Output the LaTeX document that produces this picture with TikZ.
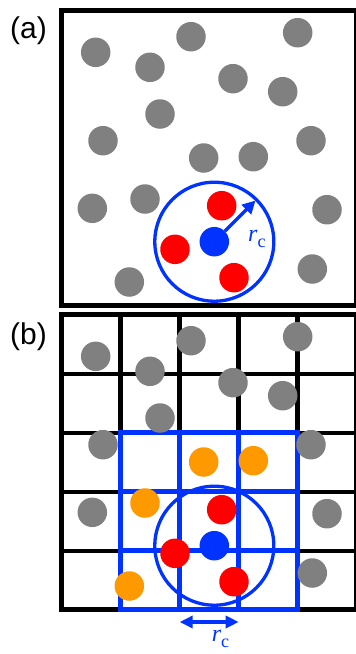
\documentclass[tikz,border=0pt]{standalone}
\usepackage{fontspec}
\setmainfont{Liberation Sans}
\newfontfamily\serifrc{Liberation Serif}
\usetikzlibrary{arrows.meta}
\definecolor{pblue}{RGB}{0,51,255}
\definecolor{pred}{RGB}{255,0,0}
\definecolor{pgray}{RGB}{128,128,128}
\definecolor{porange}{RGB}{255,153,0}
\newcommand{\rclabel}{{\serifrc\fontsize{24}{24}\selectfont\itshape r\raisebox{-5.5pt}{\upshape\fontsize{18}{18}\selectfont c}}}
\begin{document}
\begin{tikzpicture}[x=1pt,y=-1pt,
  particle/.style={circle,inner sep=0pt,minimum size=29.5pt,draw=none},
  framebox/.style={draw=black,line width=5pt},
  gridline/.style={draw=black,line width=4.5pt},
  bluegrid/.style={draw=pblue,line width=5pt},
  cutoff/.style={circle,draw=pblue,line width=3.3pt,minimum size=119pt,inner sep=0pt},
  panellabel/.style={anchor=base west,inner sep=0pt,font=\fontsize{30}{30}\selectfont},
  rcl/.style={anchor=base west,inner sep=0pt,text=pblue},
  rcarrow/.style={draw=pblue,line width=3.5pt,-{Triangle[length=13pt,width=13pt]}},
  dblarrow/.style={draw=pblue,line width=3.5pt,{Triangle[length=13pt,width=12pt]}-{Triangle[length=13pt,width=12pt]}}]
\useasboundingbox (0,0) rectangle (356,654);

% ---------------- panel (a)
\node[panellabel] (la) at (10,38.5) {(a)};
\draw[framebox] (61.7,10.8) rectangle (356.7,305.8);
\node[cutoff] (ca) at (214.3,241.7) {};
\foreach \n/\x/\y in {1/95.7/52.3, 2/191/36.7, 3/297.7/32.7, 4/150/67.3,
  5/233/78.7, 6/282.7/91.7, 7/160/114, 8/103/140.7, 9/203.7/158,
  10/253.3/156.7, 11/311/140.7, 12/92.3/208.3, 13/145/199, 14/327/209.7,
  15/129.3/282, 16/312.3/269}
  \node[particle,fill=pgray] (ag\n) at (\x,\y) {};
\foreach \n/\x/\y in {1/221.7/205.7, 2/175/249.3, 3/234/277.7}
  \node[particle,fill=pred] (ar\n) at (\x,\y) {};
\node[particle,fill=pblue] (ab) at (214.3,241.7) {};
\coordinate (ta) at (255.5,200.5);
\draw[rcarrow] (ab) -- (ta);
\node[rcl] (rca) at (248,241.7) {\rclabel};

% ---------------- panel (b)
\node[panellabel] (lb) at (10,344.2) {(b)};
\foreach \x in {120.7,179.7,238.7,297.7}
  \draw[gridline] (\x,314.8) -- (\x,609.8);
\foreach \y in {373.8,432.8,491.8,550.8}
  \draw[gridline] (61.7,\y) -- (356.7,\y);
\draw[framebox] (61.7,314.8) rectangle (356.7,609.8);
\draw[bluegrid] (120.7,432.8) rectangle (297.7,609.8);
\draw[bluegrid] (179.7,432.8) -- (179.7,609.8);
\draw[bluegrid] (238.7,432.8) -- (238.7,609.8);
\draw[bluegrid] (120.7,491.8) -- (297.7,491.8);
\draw[bluegrid] (120.7,550.8) -- (297.7,550.8);
\node[cutoff] (cb) at (214.3,545.7) {};
\foreach \n/\x/\y in {1/95.7/356.3, 2/191/340.7, 3/297.7/336.7, 4/150/371.3,
  5/233/382.7, 6/282.7/395.7, 7/160/418, 8/103/444.7,
  11/311/444.7, 12/92.3/512.3, 14/327/513.7, 16/312.3/573}
  \node[particle,fill=pgray] (bg\n) at (\x,\y) {};
\foreach \n/\x/\y in {9/203.7/462, 10/253.3/460.7, 13/145/503, 15/129.3/586}
  \node[particle,fill=porange] (bo\n) at (\x,\y) {};
\foreach \n/\x/\y in {1/221.7/509.7, 2/175/553.3, 3/234/581.7}
  \node[particle,fill=pred] (br\n) at (\x,\y) {};
\node[particle,fill=pblue] (bb) at (214.3,545.7) {};
\coordinate (dl) at (179.7,622);
\coordinate (dr) at (238.7,622);
\draw[dblarrow] (dl) -- (dr);
\node[rcl] (rcb) at (211.7,641.7) {\rclabel};
\end{tikzpicture}
\end{document}
